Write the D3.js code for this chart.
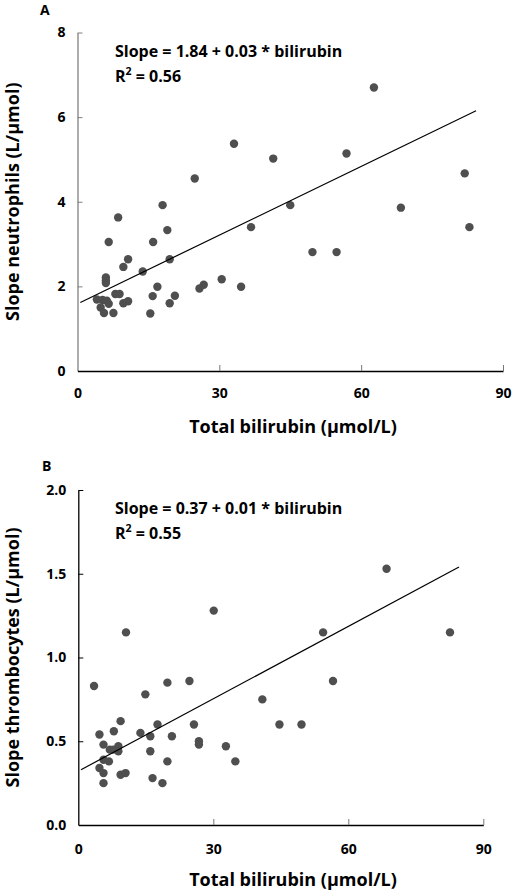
<!DOCTYPE html>
<html><head><meta charset="utf-8">
<script src="https://cdn.jsdelivr.net/npm/d3@7"></script>
<style>body{margin:0;background:#fff}svg{display:block}text{font-family:"Open Sans","DejaVu Sans",sans-serif;font-weight:700;fill:#000}</style>
</head><body><div id="chart"></div>
<script>
// Panel A: total bilirubin vs slope neutrophils
const bilirubinA = [8.6,18.0,24.8,6.6,16.0,19.0,36.7,10.7,9.7,19.5,13.8,6.0,6.0,6.0,16.9,25.8,26.7,30.5,34.6,8.0,8.9,4.1,5.3,6.2,6.6,4.9,9.7,10.7,15.9,20.6,19.5,5.6,7.6,15.4,33.1,41.4,56.9,81.9,45.0,68.4,82.9,49.7,54.8,62.7];
const neutrophils = [3.63,3.92,4.55,3.05,3.05,3.33,3.40,2.64,2.46,2.64,2.35,2.21,2.14,2.08,1.99,1.95,2.04,2.17,1.99,1.82,1.82,1.69,1.68,1.66,1.59,1.50,1.60,1.65,1.77,1.78,1.60,1.37,1.37,1.36,5.37,5.02,5.14,4.67,3.92,3.86,3.40,2.81,2.81,6.70];
const fitA_x = [0.6, 84.3];
const fitA_y = [1.62, 6.15];

// Panel B: total bilirubin vs slope thrombocytes
const bilirubinB = [3.5,10.6,30.1,14.9,19.8,24.7,40.9,9.4,4.7,7.9,17.6,25.7,44.7,49.6,13.8,16.0,20.8,5.6,7.0,7.8,8.9,8.9,26.8,26.8,32.8,16.0,5.6,6.8,19.8,34.9,4.7,5.6,9.4,10.5,16.5,18.7,5.6,68.5,54.4,82.6,56.6];
const thrombocytes = [0.83,1.15,1.28,0.78,0.85,0.86,0.75,0.62,0.54,0.56,0.60,0.60,0.60,0.60,0.55,0.53,0.53,0.48,0.45,0.45,0.47,0.44,0.50,0.48,0.47,0.44,0.39,0.38,0.38,0.38,0.34,0.31,0.30,0.31,0.28,0.25,0.25,1.53,1.15,1.15,0.86];
const fitB_x = [0.6, 84.6];
const fitB_y = [0.33, 1.54];

const xTicks = [0,30,60,90];
const yTicksA = [0,2,4,6,8];
const yTicksB = [0,0.5,1.0,1.5,2.0];

const svg = d3.select("#chart").append("svg").attr("width",512).attr("height",892);

function panel(opt){
  const x = d3.scaleLinear().domain([0,90]).range(opt.xr);
  const y = d3.scaleLinear().domain(opt.yd).range(opt.yr);
  const g = svg.append("g");
  // y axis
  const ya = g.append("g").attr("transform",`translate(${opt.xr[0]},0)`)
    .call(d3.axisLeft(y).tickValues(opt.yTicks).tickFormat(opt.yFmt).tickSizeInner(-5).tickSizeOuter(0).tickPadding(12));
  ya.select(".domain").attr("stroke",opt.yAxisColor).attr("stroke-width",1.3);
  ya.selectAll(".tick line").attr("stroke",opt.yAxisColor).filter(d=>d===0).remove();
  ya.selectAll(".tick text").attr("font-size",14).attr("font-weight",700).attr("font-family","Open Sans").attr("fill","#000");
  // x axis
  const xa = g.append("g").attr("transform",`translate(0,${opt.yr[0]})`)
    .call(d3.axisBottom(x).tickValues(xTicks).tickSizeInner(-6).tickSizeOuter(0).tickPadding(opt.xPad));
  xa.select(".domain").attr("stroke","#000").attr("stroke-width",1.3);
  xa.selectAll(".tick line").attr("stroke","#777").filter(d=>d===0).remove();
  xa.selectAll(".tick text").attr("font-size",14).attr("font-weight",700).attr("font-family","Open Sans").attr("fill","#000");
  // dots
  g.append("g").selectAll("circle").data(opt.xs.map((v,i)=>[v,opt.ys[i]])).join("circle")
    .attr("cx",d=>x(d[0])).attr("cy",d=>y(d[1])).attr("r",4.2).attr("fill","#4f4f4f");
  // fit line
  g.append("line").attr("x1",x(opt.fx[0])).attr("y1",y(opt.fy[0])).attr("x2",x(opt.fx[1])).attr("y2",y(opt.fy[1]))
    .attr("stroke","#000").attr("stroke-width",1.2);
  // panel letter
  g.append("text").attr("x",opt.letterPos[0]).attr("y",opt.letterPos[1]).attr("font-size",14).text(opt.letter);
  // equation
  g.append("text").attr("x",115).attr("y",opt.eqY).attr("font-size",16).text(opt.eq);
  const r = g.append("text").attr("x",115).attr("y",opt.eqY+25).attr("font-size",16);
  r.append("tspan").text("R");
  r.append("tspan").attr("font-size",10.5).attr("dy",-7).text("2");
  r.append("tspan").attr("dy",7).text(" = " + opt.r2);
  // axis titles
  g.append("text").attr("x",opt.xTitleX).attr("y",opt.xTitleY).attr("text-anchor","middle").attr("font-size",18).text("Total bilirubin (μmol/L)");
  g.append("text").attr("transform",`translate(${opt.yTitleX},${(opt.yr[0]+opt.yr[1])/2}) rotate(-90)`).attr("text-anchor","middle").attr("font-size",18).text(opt.yTitle);
}

panel({xr:[77.5,503], yr:[371,32.5], yd:[0,8], yTicks:yTicksA, yFmt:d3.format("d"), yAxisColor:"#808080",
  xs:bilirubinA, ys:neutrophils, fx:fitA_x, fy:fitA_y, letter:"A", letterPos:[40,15], xPad:17,
  eq:"Slope = 1.84 + 0.03 * bilirubin", r2:"0.56", eqY:57, xTitleX:293, xTitleY:433, yTitleX:19, yTitle:"Slope neutrophils (L/μmol)"});
panel({xr:[78.3,483.3], yr:[825,490], yd:[0,2], yTicks:yTicksB, yFmt:d3.format(".1f"), yAxisColor:"#000",
  xs:bilirubinB, ys:thrombocytes, fx:fitB_x, fy:fitB_y, letter:"B", letterPos:[42,471], xPad:19,
  eq:"Slope = 0.37 + 0.01 * bilirubin", r2:"0.55", eqY:514, xTitleX:293, xTitleY:886, yTitleX:19, yTitle:"Slope thrombocytes (L/μmol)"});
</script></body></html>
